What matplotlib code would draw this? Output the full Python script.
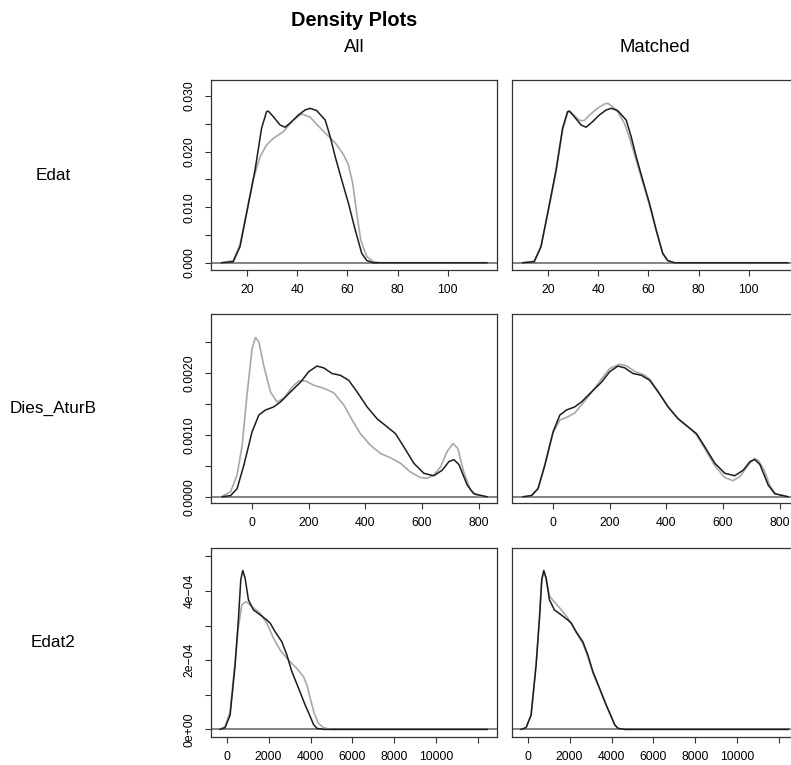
import numpy as np
import matplotlib.pyplot as plt

plt.rcParams['font.family'] = ['Liberation Sans', 'DejaVu Sans']

# Edat - density (treated = black, control = grey)
edat_x_t = [9.7, 14.4, 17.1, 20.0, 23.1, 25.7, 27.7, 28.4, 30.4, 33.1, 35.1, 37.7, 40.4, 43.1, 45.1, 47.7,
            51.1, 53.1, 55.1, 57.7, 60.4, 63.1, 65.7, 67.7, 70.4, 115.7]
edat_y_t = [0, 0.0002, 0.0029, 0.0095, 0.0167, 0.0242, 0.0272, 0.0273, 0.0263, 0.0248, 0.0244, 0.0254, 0.0266,
            0.0275, 0.0278, 0.0274, 0.0257, 0.0227, 0.0191, 0.0149, 0.0107, 0.0059, 0.0017, 0.0004, 0, 0]
edat_x_c = [9.7, 14.4, 17.1, 20.0, 22.4, 25.1, 27.7, 30.4, 34.4, 38.4, 41.7, 45.1, 48.4, 51.7, 55.1, 58.4,
            60.4, 62.1, 63.7, 65.3, 67.7, 70.4, 73.1, 115.7]
edat_y_c = [0, 0.0004, 0.0033, 0.0098, 0.0150, 0.0191, 0.0212, 0.0224, 0.0236, 0.0257, 0.0268, 0.0262, 0.0246,
            0.0231, 0.0216, 0.0195, 0.0176, 0.0143, 0.0089, 0.0041, 0.0011, 0.0002, 0, 0]
edat_x_m = [9.7, 14.4, 17.1, 20.0, 23.1, 25.7, 27.7, 28.6, 30.4, 32.5, 34.4, 36.5, 39.6, 42.5, 43.8, 46.0,
            48.0, 50.5, 52.5, 55.1, 57.7, 60.4, 63.1, 65.7, 67.7, 70.4, 115.7]
edat_y_m = [0, 0.0003, 0.0030, 0.0093, 0.0163, 0.0238, 0.0270, 0.0273, 0.0265, 0.0256, 0.0256, 0.0266, 0.0278,
            0.0286, 0.0287, 0.0280, 0.0270, 0.0250, 0.0224, 0.0185, 0.0145, 0.0104, 0.0057, 0.0016, 0.0004, 0, 0]

# Dies_AturB
dies_x_t = [-106, -76, -53, -29, 0, 24, 47, 76, 100, 135, 171, 200, 229, 253, 282, 312, 341, 371, 406, 441,
            476, 506, 535, 571, 606, 641, 671, 695, 712, 730, 759, 782, 829]
dies_y_t = [0, 0.00002, 0.00013, 0.00051, 0.00105, 0.00132, 0.00140, 0.00145, 0.00153, 0.00169, 0.00185,
            0.00202, 0.00211, 0.00208, 0.00199, 0.00196, 0.00188, 0.00169, 0.00145, 0.00126, 0.00113, 0.00102,
            0.00081, 0.00054, 0.00038, 0.00034, 0.00043, 0.00057, 0.00060, 0.00052, 0.00019, 0.00005, 0]
dies_x_c = [-109, -76, -53, -35, -18, 0, 12, 24, 41, 65, 88, 112, 141, 165, 188, 218, 253, 288, 324, 353,
            382, 418, 453, 488, 524, 559, 594, 618, 641, 665, 688, 709, 726, 747, 771, 794, 829]
dies_y_c = [0, 0.00008, 0.00035, 0.00083, 0.00164, 0.00239, 0.00257, 0.00250, 0.00212, 0.00169, 0.00153,
            0.00159, 0.00177, 0.00187, 0.00187, 0.00180, 0.00175, 0.00168, 0.00148, 0.00124, 0.00102, 0.00083,
            0.00070, 0.00063, 0.00054, 0.00040, 0.00031, 0.00030, 0.00035, 0.00048, 0.00073, 0.00086, 0.00078,
            0.00040, 0.00011, 0.00002, 0]
dies_x_m = [-106, -76, -53, -29, 0, 24, 47, 76, 100, 135, 171, 200, 235, 260, 290, 320, 341, 371, 406, 441,
            476, 506, 535, 571, 606, 635, 660, 690, 710, 725, 745, 765, 785, 829]
dies_y_m = [0, 0.00002, 0.00014, 0.00052, 0.00103, 0.00124, 0.00128, 0.00135, 0.00148, 0.00168, 0.00190,
            0.00207, 0.00214, 0.00211, 0.00202, 0.00197, 0.00190, 0.00170, 0.00145, 0.00126, 0.00113, 0.00100,
            0.00078, 0.00050, 0.00031, 0.00026, 0.00033, 0.00052, 0.00062, 0.00058, 0.00043, 0.00018, 0.00005, 0]

# Edat2
edat2_x_t = [-319, -80, 160, 400, 560, 670, 766, 877, 1037, 1276, 1595, 1914, 2073, 2313, 2632, 2871, 3110,
             3429, 3748, 3987, 4147, 4306, 4625, 12440]
edat2_y_t = [0, 0.05e-4, 0.41e-4, 1.86e-4, 3.21e-4, 4.32e-4, 4.59e-4, 4.37e-4, 3.74e-4, 3.45e-4, 3.31e-4,
             3.16e-4, 3.07e-4, 2.82e-4, 2.53e-4, 2.15e-4, 1.67e-4, 1.19e-4, 0.70e-4, 0.37e-4, 0.14e-4,
             0.03e-4, 0, 0]
edat2_x_c = [-319, -80, 160, 400, 560, 718, 925, 1196, 1595, 1914, 2233, 2552, 2951, 3349, 3668, 3828, 3987,
             4179, 4386, 4625, 4944, 12440]
edat2_y_c = [0, 0.08e-4, 0.51e-4, 1.96e-4, 2.97e-4, 3.60e-4, 3.69e-4, 3.55e-4, 3.35e-4, 3.07e-4, 2.63e-4,
             2.29e-4, 2.00e-4, 1.76e-4, 1.52e-4, 1.28e-4, 0.90e-4, 0.46e-4, 0.17e-4, 0.05e-4, 0, 0]
edat2_x_m = [-319, -80, 160, 400, 560, 670, 766, 877, 1037, 1276, 1595, 1914, 2073, 2313, 2632, 2871, 3110,
             3429, 3748, 3987, 4147, 4306, 4625, 12440]
edat2_y_m = [0, 0.05e-4, 0.42e-4, 1.88e-4, 3.23e-4, 4.34e-4, 4.58e-4, 4.36e-4, 3.85e-4, 3.68e-4, 3.46e-4,
             3.22e-4, 3.08e-4, 2.80e-4, 2.48e-4, 2.10e-4, 1.63e-4, 1.17e-4, 0.70e-4, 0.37e-4, 0.14e-4,
             0.03e-4, 0, 0]

row_names = ["Edat", "Dies_AturB", "Edat2"]
col_names = ["All", "Matched"]
x_ticks = [[20, 40, 60, 80, 100], [0, 200, 400, 600, 800], [0, 2000, 4000, 6000, 8000, 10000, 12000]]
x_labels = [["20", "40", "60", "80", "100"], ["0", "200", "400", "600", "800"],
            ["0", "2000", "4000", "6000", "8000", "10000", ""]]
y_ticks = [[0, 0.005, 0.010, 0.015, 0.020, 0.025, 0.030],
           [0, 0.0005, 0.0010, 0.0015, 0.0020, 0.0025],
           [0, 1e-4, 2e-4, 3e-4, 4e-4, 5e-4]]
y_labels = [["0.000", "", "0.010", "", "0.020", "", "0.030"],
            ["0.0000", "", "0.0010", "", "0.0020", ""],
            ["0e+00", "", "2e\u221204", "", "4e\u221204", ""]]

curves = [[(edat_x_c, edat_y_c, edat_x_t, edat_y_t), (edat_x_m, edat_y_m, edat_x_t, edat_y_t)],
          [(dies_x_c, dies_y_c, dies_x_t, dies_y_t), (dies_x_m, dies_y_m, dies_x_t, dies_y_t)],
          [(edat2_x_c, edat2_y_c, edat2_x_t, edat2_y_t), (edat2_x_m, edat2_y_m, edat2_x_t, edat2_y_t)]]

xlims = [(5.4, 119.9), (-146, 866), (-766, 12930)]
ylims = [(-0.0013, 0.0329), (-0.0001, 0.00295), (-0.22e-4, 5.24e-4)]

W, H = 791, 765
fig = plt.figure(figsize=(W / 100, H / 100), dpi=100)

col_left = [210.7, 511.7]
col_w = 286.8
row_top = [80, 314, 548]
row_h = [190, 189, 189]

for r in range(3):
    for c in range(2):
        ax = fig.add_axes([col_left[c] / W, 1 - (row_top[r] + row_h[r]) / H, col_w / W, row_h[r] / H])
        xc, yc, xt, yt = curves[r][c]
        ax.axhline(0, color="#6e6e6e", lw=1.2, zorder=1)
        ax.plot(xc, yc, color="#a8a8a8", lw=1.2, zorder=2)
        ax.plot(xt, yt, color="#1c1c1c", lw=1.1, zorder=3)
        ax.set_xlim(xlims[r])
        ax.set_ylim(ylims[r])
        ax.set_xticks(x_ticks[r])
        ax.set_xticklabels(x_labels[r])
        ax.tick_params(axis="x", length=4.5, width=0.8, pad=5.5, labelsize=8.8, colors="#333333", labelcolor="black")
        if c == 0:
            ax.set_yticks(y_ticks[r])
            ax.set_yticklabels(y_labels[r], rotation=90, va="center")
            ax.tick_params(axis="y", length=4.5, width=0.8, pad=6.5, labelsize=8.8, colors="#333333", labelcolor="black")
        else:
            ax.set_yticks([])
        for s in ax.spines.values():
            s.set_color("#333333")
            s.set_linewidth(0.9)

# headings and row names
fig.text((col_left[0] + col_w / 2) / W, 1 - 20 / H, "Density Plots", ha="center", va="center",
         fontsize=14.4, fontweight="bold")
for c in range(2):
    fig.text((col_left[c] + col_w / 2) / W, 1 - 47 / H, col_names[c], ha="center", va="center", fontsize=13.3)
for r in range(3):
    fig.text(53 / W, 1 - (row_top[r] + row_h[r] / 2) / H, row_names[r], ha="center", va="center", fontsize=12.3)

plt.savefig("out.png", dpi=100)
